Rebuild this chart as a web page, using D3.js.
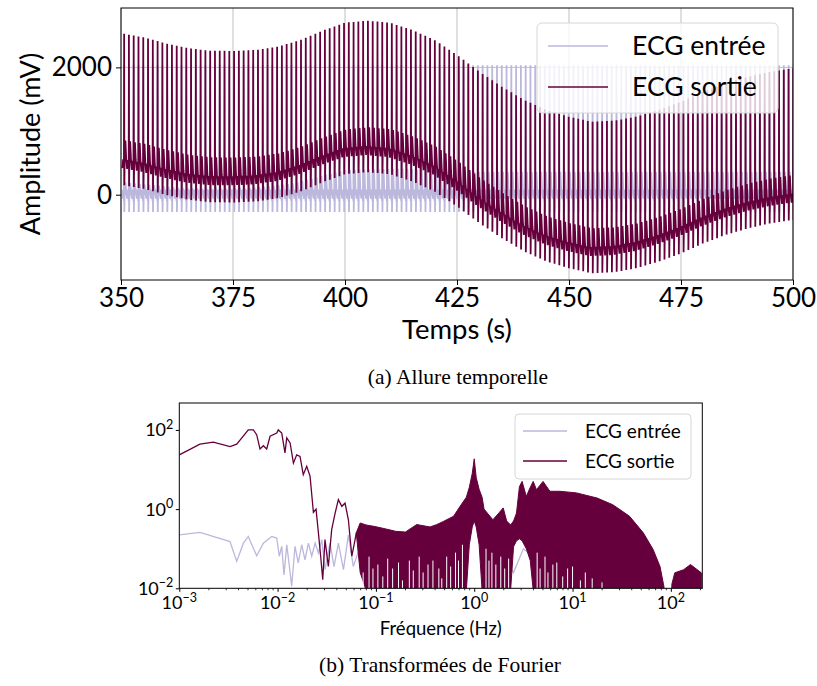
<!DOCTYPE html>
<html>
<head>
<meta charset="utf-8">
<script src="https://cdn.jsdelivr.net/npm/d3@7"></script>
<style>
  body { margin: 0; background: #fff; }
  text { font-family: Lato, "Open Sans", sans-serif; fill: #000; }
  .caption { font-family: "Liberation Serif", "DejaVu Serif", serif; }
</style>
</head>
<body>
<svg id="fig" width="817" height="686"></svg>
<script>
// ---------- top panel data (time domain) ----------
const timeTicks = [350, 375, 400, 425, 450, 475, 500];
const ampTicks = [0, 2000];
const beatPeriod = 1.067;          // s, read from spike spacing
const firstBeat = 350.7;
// R-peak height of the output signal, read every 5 s
const envTimes = [350, 355, 360, 365, 370, 375, 380, 385, 390, 395, 400, 405, 410, 415, 420,
                  425, 430, 435, 440, 445, 450, 455, 460, 465, 470, 475, 480, 485, 490, 495, 500];
const sortiePeak = [2536, 2473, 2378, 2300, 2262, 2258, 2273, 2325, 2430, 2577, 2702, 2734, 2702, 2587, 2430,
                    2195, 1932, 1697, 1488, 1330, 1225, 1147, 1162, 1225, 1330, 1460, 1618, 1750, 1854, 1932, 1986];
const sortieRise = 2030;           // R height above the wandering baseline
// T-wave level of the input signal
const entreeTTimes = [350, 362.5, 375, 387.5, 400, 412.5, 425, 450, 475, 500];
const entreeT = [200, 110, 80, 170, 390, 410, 360, 360, 360, 360];
// one beat: time offsets around R (s) and levels (mV)
const beatOffsets = [-0.40, -0.22, -0.14, -0.04, 0, 0.04, 0.10, 0.28, 0.45];
const entreeShape = [-60, 80, 0, -100, 2035, -270, 0, null, 60];
const sortieShape = [-80, 60, 0, -60, 2030, -350, 0, 355, 80];

// ---------- bottom panel data (log10 values) ----------
const freqDecades = [-3, -2, -1, 0, 1, 2];
const magDecades = [-2, 0, 2];
const sortieLowF = [-3, -2.79, -2.654, -2.484, -2.416, -2.298, -2.247, -2.213, -2.179, -2.145, -2.111, -2.077,
                    -2.009, -1.993, -1.958, -1.925, -1.907, -1.873, -1.839, -1.806, -1.772, -1.739, -1.704,
                    -1.670, -1.636, -1.609, -1.585, -1.562, -1.541, -1.518, -1.484, -1.45, -1.415, -1.382,
                    -1.347, -1.314, -1.28, -1.245, -1.212, -1.20];
const sortieLowA = [1.37, 1.64, 1.69, 1.58, 1.64, 2.0, 2.0, 1.88, 1.52, 1.60, 1.52, 1.84,
                    1.92, 2.0, 1.92, 1.42, 1.80, 1.67, 1.16, 1.37, 1.33, 0.87, 1.08,
                    0.83, -0.08, 0.0, -0.6, -1.19, -1.78, -0.77, -1.45, -0.52, -0.1, 0.24,
                    0.07, 0.15, -0.27, -1.19, -0.77, -0.6];
const entreeF = [-3, -2.79, -2.484, -2.416, -2.348, -2.298, -2.213, -2.145, -2.06, -2.009, -1.983, -1.958,
                 -1.935, -1.907, -1.88, -1.857, -1.823, -1.79, -1.755, -1.721, -1.687, -1.653, -1.618,
                 -1.585, -1.551, -1.518, -1.467, -1.426, -1.382, -1.33, -1.28, -1.23, -1.16, -1.094,
                 -1.026, -0.975, -0.9, -0.8, -0.7, -0.6, -0.5, -0.4, -0.3, -0.2, -0.1, -0.04, 0,
                 0.04, 0.1, 0.2, 0.3, 0.4, 0.5, 0.6, 0.8, 1.0, 1.2, 1.4];
const entreeA = [-0.65, -0.59, -0.82, -1.32, -0.86, -0.69, -1.18, -0.86, -0.69, -0.73, -1.19, -0.94,
                 -1.66, -0.90, -1.45, -1.95, -0.94, -1.36, -0.90, -1.28, -0.86, -1.19, -0.86,
                 -1.11, -0.77, -1.53, -0.86, -1.45, -0.86, -1.53, -0.65, -1.45, -0.94, -1.70,
                 -1.02, -1.45, -1.25, -1.6, -1.3, -1.7, -1.4, -1.8, -1.5, -1.3, -1.0, -0.6, 0.07,
                 -0.6, -1.1, -1.5, -1.2, -1.6, -1.0, -1.2, -1.4, -1.6, -1.8, -1.95];
// dense part of the output spectrum: upper and lower edge (-2.2 = below the axis)
const denseF  = [-1.20, -1.16, -1.10, -1.01, -0.90, -0.80, -0.70, -0.585, -0.45, -0.38, -0.313, -0.21, -0.144,
                 -0.08, -0.05, -0.02, 0.0, 0.02, 0.05, 0.08, 0.10, 0.19, 0.25, 0.295, 0.33, 0.37,
                 0.40, 0.43, 0.46, 0.487, 0.53, 0.57, 0.60, 0.633, 0.70, 0.77, 0.87, 1.04, 1.25, 1.41,
                 1.58, 1.72, 1.82, 1.89, 1.93, null, 2.01, 2.04, 2.13, 2.20, 2.31];
const denseHi = [-0.60, -0.35, -0.40, -0.44, -0.50, -0.56, -0.58, -0.39, -0.45, -0.39, -0.31, -0.18, 0.07,
                 0.30, 0.55, 0.90, 1.27, 0.80, 0.50, 0.30, 0.0, -0.27, -0.10, 0.03, -0.30, -0.40,
                 -0.30, -0.10, 0.57, 0.70, 0.32, 0.55, 0.70, 0.49, 0.70, 0.45, 0.45, 0.41, 0.28, 0.11,
                 -0.18, -0.60, -1.02, -1.45, -1.96, null, -1.9, -1.61, -1.53, -1.40, -1.61];
const denseLo = [-0.60, -1.6, -2.2, -2.2, -2.2, -2.2, -2.2, -2.2, -2.2, -2.2, -2.2, -2.2, -2.2,
                 -2.2, -0.9, -0.45, -0.3, -0.45, -0.9, -2.2, -2.2, -2.2, -2.2, -2.2, -2.2, -2.2,
                 -0.95, -0.8, -0.75, -0.8, -1.0, -1.3, -2.2, -2.2, -2.2, -2.2, -2.2, -2.2, -2.2, -2.2,
                 -2.2, -2.2, -2.2, -2.2, -2.2, null, -2.2, -2.2, -2.2, -2.2, -2.2];
// thin empty gaps in the output spectrum (frequency, top of the gap)
const gapF = [-1.13, -1.07, -1.03, -0.98, -0.93, -0.88, -0.83, -0.77, -0.73, -0.66, -0.62,
              -0.56, -0.52, -0.47, -0.42, -0.36, -0.33, -0.28, -0.24, -0.19, -0.16, -0.12,
              0.12, 0.15, 0.18, 0.22, 0.27, 0.31, 0.35, 0.64, 0.67, 0.72, 0.75, 0.80, 0.84,
              0.90, 0.95, 1.00, 1.08, 1.13, 1.20, 1.30];
const gapTop = [-1.6, -1.2, -1.5, -1.4, -1.7, -1.25, -1.5, -1.35, -1.8, -1.3, -1.55,
                -1.2, -1.6, -1.4, -1.3, -1.5, -1.75, -1.2, -1.45, -1.1, -1.3, -0.9,
                -1.0, -1.3, -1.1, -1.4, -1.2, -1.5, -1.25, -1.1, -1.5, -1.2, -1.6, -1.4, -1.35,
                -1.7, -1.5, -1.45, -1.8, -1.6, -1.75, -1.85];

const colEntree = '#bcb7dc';
const colSortie = '#66003d';
const gridCol = '#b0b0b0';

const svg = d3.select('#fig');

// ================= panel (a) =================
const ta = {left: 121, right: 793, top: 8, bottom: 280};
const x = d3.scaleLinear().domain([350, 500]).range([ta.left, ta.right]);
const y = d3.scaleLinear().domain([-1340, 2933]).range([ta.bottom, ta.top]);
const peakAt = d3.scaleLinear().domain(envTimes).range(sortiePeak).clamp(true);
const tAt = d3.scaleLinear().domain(entreeTTimes).range(entreeT).clamp(true);

var entreePts = [], sortiePts = [];
for (var tb = firstBeat; tb < 500 + 1; tb += beatPeriod) {
    var base = peakAt(tb) - sortieRise;
    beatOffsets.forEach(function (o, i) {
        var t = tb + o;
        var ev = entreeShape[i] === null ? tAt(tb) : entreeShape[i];
        entreePts.push([t, ev]);
        sortiePts.push([t, base + sortieShape[i]]);
    });
}

svg.append('clipPath').attr('id', 'clipA').append('rect')
    .attr('x', ta.left).attr('y', ta.top)
    .attr('width', ta.right - ta.left).attr('height', ta.bottom - ta.top);

const gA = svg.append('g');

// grid
gA.selectAll('.vg').data(timeTicks).enter().append('line')
    .attr('x1', d => x(d)).attr('x2', d => x(d))
    .attr('y1', ta.top).attr('y2', ta.bottom)
    .attr('stroke', gridCol).attr('stroke-width', 0.8);
gA.selectAll('.hg').data(ampTicks).enter().append('line')
    .attr('x1', ta.left).attr('x2', ta.right)
    .attr('y1', d => y(d)).attr('y2', d => y(d))
    .attr('stroke', gridCol).attr('stroke-width', 0.8);

const lineA = d3.line().x(d => x(d[0])).y(d => y(d[1]));
const plotA = gA.append('g').attr('clip-path', 'url(#clipA)');
plotA.append('path').datum(entreePts).attr('d', lineA)
    .attr('fill', 'none').attr('stroke', colEntree).attr('stroke-width', 1.8);
plotA.append('path').datum(sortiePts).attr('d', lineA)
    .attr('fill', 'none').attr('stroke', colSortie).attr('stroke-width', 1.8);

// axes
const xAxisA = d3.axisBottom(x).tickValues(timeTicks).tickSize(5).tickPadding(3);
const yAxisA = d3.axisLeft(y).tickValues(ampTicks).tickSize(5).tickPadding(4).tickFormat(d3.format('d'));
const gxA = gA.append('g').attr('transform', 'translate(0,' + ta.bottom + ')').call(xAxisA);
const gyA = gA.append('g').attr('transform', 'translate(' + ta.left + ',0)').call(yAxisA);
[gxA, gyA].forEach(function (g) {
    g.select('.domain').remove();
    g.selectAll('line').attr('stroke', '#000').attr('stroke-width', 1);
    g.selectAll('text').style('font-size', '26px').attr('fill', '#000');
});
gxA.selectAll('text').attr('dy', '0.72em');
gA.append('rect').attr('x', ta.left).attr('y', ta.top)
    .attr('width', ta.right - ta.left).attr('height', ta.bottom - ta.top)
    .attr('fill', 'none').attr('stroke', '#000').attr('stroke-width', 1);

gA.append('text').attr('x', (ta.left + ta.right) / 2).attr('y', 339)
    .attr('text-anchor', 'middle').style('font-size', '27.5px').text('Temps (s)');
gA.append('text').attr('transform', 'translate(40,' + (ta.top + ta.bottom) / 2 + ') rotate(-90)')
    .attr('text-anchor', 'middle').style('font-size', '27px').text('Amplitude (mV)');

// legend (a)
const legA = gA.append('g');
legA.append('rect').attr('x', 537).attr('y', 23).attr('width', 241).attr('height', 90)
    .attr('rx', 5).attr('fill', '#fff').attr('fill-opacity', 0.8)
    .attr('stroke', '#d6d6d6').attr('stroke-width', 1);
[['ECG entrée', colEntree, 46], ['ECG sortie', colSortie, 87]].forEach(function (l) {
    legA.append('line').attr('x1', 548).attr('x2', 608).attr('y1', l[2]).attr('y2', l[2])
        .attr('stroke', l[1]).attr('stroke-width', 1.5);
    legA.append('text').attr('x', 632).attr('y', l[2]).attr('dy', '0.35em')
        .style('font-size', '26.5px').text(l[0]);
});

svg.append('text').attr('class', 'caption').attr('x', 458).attr('y', 384)
    .attr('text-anchor', 'middle').style('font-size', '21.5px').text('(a) Allure temporelle');

// ================= panel (b) =================
const tb2 = {left: 179.3, right: 702.3, top: 403, bottom: 588.3};
const fx = d3.scaleLog().domain([1e-3, Math.pow(10, 2.32)]).range([tb2.left, tb2.right]);
const fy = d3.scaleLog().domain([1e-2, Math.pow(10, 2.68)]).range([tb2.bottom, tb2.top]);
const p10 = v => Math.pow(10, v);
const fyc = v => v <= -2 ? tb2.bottom + 2 : fy(p10(v));

svg.append('clipPath').attr('id', 'clipB').append('rect')
    .attr('x', tb2.left).attr('y', tb2.top)
    .attr('width', tb2.right - tb2.left).attr('height', tb2.bottom - tb2.top);
const gB = svg.append('g');
const plotB = gB.append('g').attr('clip-path', 'url(#clipB)');

const lineB = d3.line().x(d => fx(p10(d[0]))).y(d => fyc(d[1]));
plotB.append('path').datum(d3.zip(entreeF, entreeA)).attr('d', lineB)
    .attr('fill', 'none').attr('stroke', colEntree).attr('stroke-width', 1.3);
plotB.append('path').datum(d3.zip(sortieLowF, sortieLowA)).attr('d', lineB)
    .attr('fill', 'none').attr('stroke', colSortie).attr('stroke-width', 1.3);

const dense = denseF.map((f, i) => ({f: f, hi: denseHi[i], lo: denseLo[i]}));
const areaB = d3.area()
    .defined(d => d.f !== null)
    .x(d => fx(p10(d.f)))
    .y0(d => fyc(d.lo))
    .y1(d => fyc(d.hi));
plotB.append('path').datum(dense).attr('d', areaB)
    .attr('fill', colSortie).attr('stroke', colSortie).attr('stroke-width', 1);
plotB.selectAll('.gap').data(d3.zip(gapF, gapTop)).enter().append('line')
    .attr('x1', d => fx(p10(d[0]))).attr('x2', d => fx(p10(d[0])))
    .attr('y1', tb2.bottom).attr('y2', d => fyc(d[1]))
    .attr('stroke', '#fff').attr('stroke-width', 1);

// axes (b)
const xAxisB = d3.axisBottom(fx).tickValues(freqDecades.map(p10)).tickSize(3.5).tickFormat('');
const yAxisB = d3.axisLeft(fy).tickValues(magDecades.map(p10)).tickSize(3.5).tickFormat('');
const gxB = gB.append('g').attr('transform', 'translate(0,' + tb2.bottom + ')').call(xAxisB);
const gyB = gB.append('g').attr('transform', 'translate(' + tb2.left + ',0)').call(yAxisB);
[gxB, gyB].forEach(g => { g.select('.domain').remove(); g.selectAll('line').attr('stroke', '#000'); });
var minors = [];
freqDecades.forEach(function (d) {
    for (var k = 2; k <= 9; k++) if (k * p10(d) < fx.domain()[1]) minors.push(k * p10(d));
});
gB.selectAll('.mt').data(minors).enter().append('line')
    .attr('x1', d => fx(d)).attr('x2', d => fx(d))
    .attr('y1', tb2.bottom).attr('y2', tb2.bottom + 2)
    .attr('stroke', '#000').attr('stroke-width', 0.8);
gB.append('rect').attr('x', tb2.left).attr('y', tb2.top)
    .attr('width', tb2.right - tb2.left).attr('height', tb2.bottom - tb2.top)
    .attr('fill', 'none').attr('stroke', '#000').attr('stroke-width', 1);

function powLabel(sel, e) {
    sel.append('tspan').text('10');
    sel.append('tspan').attr('dy', -7.5).style('font-size', '12.5px')
        .text(e < 0 ? '\u2212' + (-e) : '' + e);
}
freqDecades.forEach(function (e) {
    var t = gB.append('text').attr('x', fx(p10(e))).attr('y', 609)
        .attr('text-anchor', 'middle').style('font-size', '18px');
    powLabel(t, e);
});
magDecades.forEach(function (e) {
    var t = gB.append('text').attr('x', tb2.left - 6).attr('y', fy(p10(e)) + 6.5)
        .attr('text-anchor', 'end').style('font-size', '18px');
    powLabel(t, e);
});

gB.append('text').attr('x', (tb2.left + tb2.right) / 2).attr('y', 635)
    .attr('text-anchor', 'middle').style('font-size', '18.5px').text('Fréquence (Hz)');

// legend (b)
const legB = gB.append('g');
legB.append('rect').attr('x', 515).attr('y', 414).attr('width', 176).attr('height', 65)
    .attr('rx', 4).attr('fill', '#fff').attr('fill-opacity', 0.8)
    .attr('stroke', '#d6d6d6').attr('stroke-width', 1);
[['ECG entrée', colEntree, 431], ['ECG sortie', colSortie, 461]].forEach(function (l) {
    legB.append('line').attr('x1', 523).attr('x2', 567).attr('y1', l[2]).attr('y2', l[2])
        .attr('stroke', l[1]).attr('stroke-width', 1.3);
    legB.append('text').attr('x', 585).attr('y', l[2]).attr('dy', '0.35em')
        .style('font-size', '19px').text(l[0]);
});

svg.append('text').attr('class', 'caption').attr('x', 440).attr('y', 672)
    .attr('text-anchor', 'middle').style('font-size', '21.5px').text('(b) Transformées de Fourier');
</script>
</body>
</html>
